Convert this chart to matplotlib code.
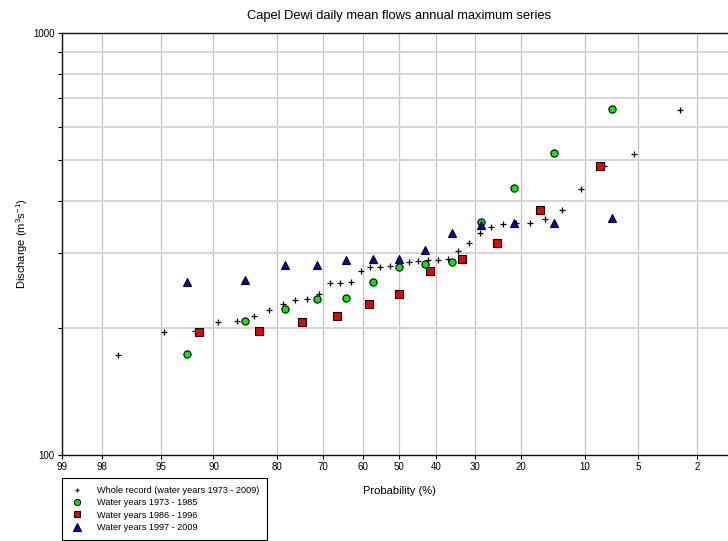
import matplotlib
matplotlib.use('Agg')
import matplotlib.pyplot as plt
from matplotlib.ticker import FixedLocator, NullFormatter, NullLocator
from statistics import NormalDist

plt.rcParams['font.family'] = ['Liberation Sans', 'DejaVu Sans']

title = "Capel Dewi daily mean flows annual maximum series"
prob_ticks = [99, 98, 95, 90, 80, 70, 60, 50, 40, 30, 20, 10, 5, 2]

# Whole record (water years 1973 - 2009): exceedance probability (%) and discharge
whole_p = [2.63, 5.26, 7.89, 10.53, 13.16, 15.79, 18.42, 21.05, 23.68, 26.32,
           28.95, 31.58, 34.21, 36.84, 39.47, 42.11, 44.74, 47.37, 50.00, 52.63,
           55.26, 57.89, 60.53, 63.16, 65.79, 68.42, 71.05, 73.68, 76.32, 78.95,
           81.58, 84.21, 86.84, 89.47, 92.11, 94.74, 97.37]
whole_q = [655, 517, 483, 427, 380, 363, 355, 354, 352, 347,
           335, 318, 304, 291, 290, 289, 288, 286, 282, 280,
           279, 278, 272, 257, 256, 256, 240, 234, 233, 228,
           220, 213, 207, 206, 197, 195, 172]

# Water years 1973 - 1985
g_p = [7.14, 14.29, 21.43, 28.57, 35.71, 42.86, 50.00, 57.14, 64.29, 71.43, 78.57, 85.71, 92.86]
g_q = [659, 520, 430, 357, 286, 284, 279, 257, 235, 234, 221, 208, 173]

# Water years 1986 - 1996
r_p = [8.33, 16.67, 25.00, 33.33, 41.67, 50.00, 58.33, 66.67, 75.00, 83.33, 91.67]
r_q = [485, 381, 318, 291, 272, 240, 228, 213, 206, 197, 195]

# Water years 1997 - 2009
b_p = [7.14, 14.29, 21.43, 28.57, 35.71, 42.86, 50.00, 57.14, 64.29, 71.43, 78.57, 85.71, 92.86]
b_q = [365, 354, 354, 350, 336, 305, 291, 291, 289, 282, 281, 259, 257]

labels = ["Whole record (water years 1973 - 2009)", "Water years 1973 - 1985",
          "Water years 1986 - 1996", "Water years 1997 - 2009"]

nd = NormalDist()
def z(p):
    return nd.inv_cdf(1 - p / 100.0)
def zs(ps):
    return [z(p) for p in ps]

W, H = 728, 541
fig = plt.figure(figsize=(W / 100, H / 100), dpi=100)
x0, x1 = z(99), z(1)
left = 62 / W
width = (x1 - x0) * 145.0 / W
top = 33 / H
bottom = 454.7 / H
ax = fig.add_axes([left, 1 - bottom, width, bottom - top])

ax.set_yscale('log')
ax.set_ylim(100, 1000)
ax.set_xlim(x0, x1)

# grid
ax.yaxis.set_major_locator(FixedLocator([100, 1000]))
ax.yaxis.set_minor_locator(FixedLocator([200, 300, 400, 500, 600, 700, 800, 900]))
ax.yaxis.set_minor_formatter(NullFormatter())
ax.set_yticklabels(['100', '1000'])
ax.grid(True, which='minor', axis='y', color='#d6d6d6', lw=1.4, zorder=0)
ax.set_xticks(zs(prob_ticks))
ax.set_xticklabels([str(p) for p in prob_ticks])
ax.xaxis.set_minor_locator(NullLocator())
ax.grid(True, which='major', axis='x', color='#c4c4c4', lw=0.9, zorder=0)

ax.tick_params(axis='both', which='major', labelsize=7, length=3, width=0.8, direction='out', pad=2.5)
ax.tick_params(axis='y', which='minor', length=3, width=0.8, direction='out')
for s in ['left', 'bottom', 'top']:
    ax.spines[s].set_linewidth(1.0)
    ax.spines[s].set_color('#111111')
ax.spines['right'].set_visible(False)

h0, = ax.plot(zs(whole_p), whole_q, linestyle='none', marker='+', color='black',
              markersize=4, markeredgewidth=0.9, zorder=3)
h1, = ax.plot(zs(g_p), g_q, linestyle='none', marker='o', markerfacecolor='#00ee00',
              markeredgecolor='black', markersize=5.2, markeredgewidth=0.8, zorder=4)
h2, = ax.plot(zs(r_p), r_q, linestyle='none', marker='s', markerfacecolor='#ee0000',
              markeredgecolor='black', markersize=5.2, markeredgewidth=0.8, zorder=4)
h3, = ax.plot(zs(b_p), b_q, linestyle='none', marker='^', markerfacecolor='#0000dd',
              markeredgecolor='black', markersize=6, markeredgewidth=0.8, zorder=4)

ax.set_title(title, fontsize=9.3, pad=10)
ax.set_xlabel('Probability (%)', fontsize=8, labelpad=11)
ax.set_ylabel(r'Discharge (m$^{\mathregular{3}}$s$^{\mathregular{-1}}$)', fontsize=8, labelpad=14)
ax.yaxis.set_label_coords(-0.047, 0.5)
ax.xaxis.set_label_coords((399 - 62) / ((x1 - x0) * 145.0), -0.075)

leg = fig.legend([h0, h1, h2, h3], labels, loc='upper left',
                 bbox_to_anchor=(62 / W, 1 - 478 / H), bbox_transform=fig.transFigure,
                 borderaxespad=0, fontsize=6.6, frameon=True, fancybox=False,
                 edgecolor='black', framealpha=1, handlelength=1.6, handletextpad=1.3,
                 labelspacing=0.36, borderpad=0.88, markerscale=0.85)
leg.get_frame().set_linewidth(0.8)

fig.savefig('out.png', dpi=100)
